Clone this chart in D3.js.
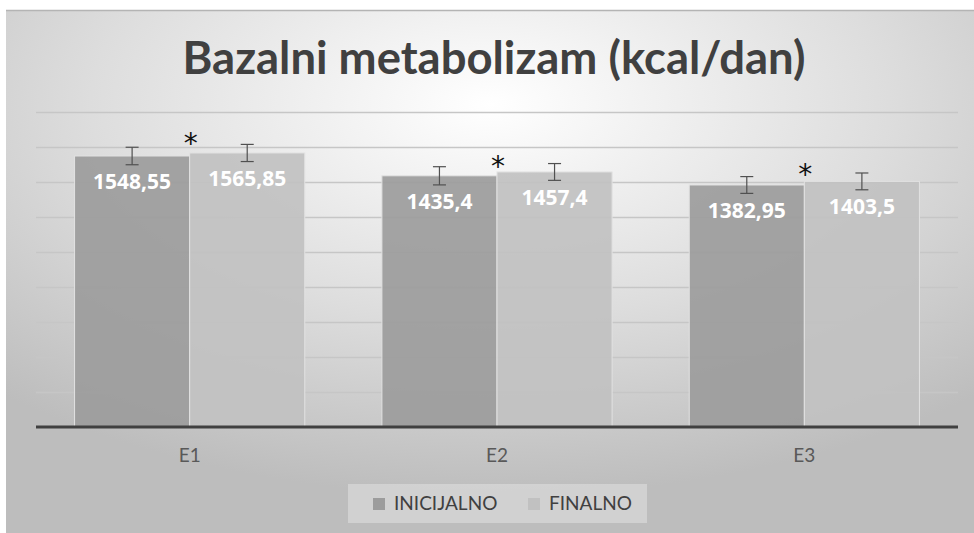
<!DOCTYPE html>
<html>
<head>
<meta charset="utf-8">
<script src="https://cdn.jsdelivr.net/npm/d3@7"></script>
<style>
  html, body { margin: 0; padding: 0; background: #fff; }
  svg { display: block; font-family: Lato, "Open Sans", sans-serif; }
</style>
</head>
<body>
<div id="chart"></div>
<script>
const categories = ["E1", "E2", "E3"];
const seriesNames = ["INICIJALNO", "FINALNO"];
const inicijalno = [1548.55, 1435.4, 1382.95];
const finalno = [1565.85, 1457.4, 1403.5];
const errInicijalno = [50, 52, 48];
const errFinalno = [49, 48, 48];
const starLevel = [1646, 1514, 1469];
const yTicks = [200, 400, 600, 800, 1000, 1200, 1400, 1600, 1800];
const labels = ["1548,55", "1565,85", "1435,4", "1457,4", "1382,95", "1403,5"];

const W = 974, H = 533;
const colors = { INICIJALNO: "#9c9c9c", FINALNO: "#c1c1c1" };

const svg = d3.select("#chart").append("svg")
  .attr("width", W).attr("height", H);

// background
const defs = svg.append("defs");
const grad = defs.append("radialGradient").attr("id", "bg")
  .attr("cx", "50%").attr("cy", "18%").attr("r", "75%");
grad.append("stop").attr("offset", "0%").attr("stop-color", "#ffffff");
grad.append("stop").attr("offset", "55%").attr("stop-color", "#dddddd");
grad.append("stop").attr("offset", "100%").attr("stop-color", "#bdbdbd");

svg.append("rect").attr("x", 6).attr("y", 10).attr("width", W - 6).attr("height", H - 10)
  .attr("fill", "url(#bg)");
svg.append("line").attr("x1", 6).attr("x2", W).attr("y1", 10.5).attr("y2", 10.5)
  .attr("stroke", "#b4b4b4").attr("stroke-width", 1.5);

// scales
const x = d3.scaleBand().domain(categories).range([36, 958]);
const xs = d3.scaleBand().domain(seriesNames).range([0, x.bandwidth()]).paddingOuter(0.335);
const y = d3.scaleLinear().domain([0, 1800]).range([427, 112]);

// gridlines
svg.append("g").selectAll("line").data(yTicks).join("line")
  .attr("x1", 36).attr("x2", 958)
  .attr("y1", d => Math.round(y(d)) + 0.5).attr("y2", d => Math.round(y(d)) + 0.5)
  .attr("stroke", "#c6c6c6").attr("stroke-width", 1.3);

// title
const title = svg.append("text")
  .attr("x", 494).attr("y", 74)
  .attr("text-anchor", "middle")
  .attr("font-weight", "bold")
  .attr("font-size", 38)
  .attr("fill", "#404040")
  .text("Bazalni metabolizam (kcal/dan)");
const tw = title.node().getComputedTextLength();
title.attr("font-size", 38 * 623 / tw);

// data rows
const rows = categories.map((c, i) => ({
  cat: c,
  vals: [
    { s: "INICIJALNO", v: inicijalno[i], e: errInicijalno[i], label: labels[i * 2] },
    { s: "FINALNO", v: finalno[i], e: errFinalno[i], label: labels[i * 2 + 1] }
  ],
  star: starLevel[i]
}));

const groups = svg.append("g").selectAll("g").data(rows).join("g")
  .attr("transform", d => `translate(${x(d.cat)},0)`);

groups.selectAll("rect").data(d => d.vals).join("rect")
  .attr("x", d => xs(d.s))
  .attr("width", xs.bandwidth())
  .attr("y", d => y(d.v))
  .attr("height", d => y(0) - y(d.v))
  .attr("fill", d => colors[d.s])
  .attr("fill-opacity", 0.92)
  .attr("stroke", "#e2e2e2")
  .attr("stroke-width", 1);

// error bars
const eb = groups.selectAll("g.err").data(d => d.vals).join("g").attr("class", "err")
  .attr("stroke", "#505050").attr("stroke-width", 1.2);
eb.append("line")
  .attr("x1", d => xs(d.s) + xs.bandwidth() / 2).attr("x2", d => xs(d.s) + xs.bandwidth() / 2)
  .attr("y1", d => y(d.v + d.e)).attr("y2", d => y(d.v - d.e));
eb.append("line")
  .attr("x1", d => xs(d.s) + xs.bandwidth() / 2 - 6.5).attr("x2", d => xs(d.s) + xs.bandwidth() / 2 + 6.5)
  .attr("y1", d => y(d.v + d.e)).attr("y2", d => y(d.v + d.e));
eb.append("line")
  .attr("x1", d => xs(d.s) + xs.bandwidth() / 2 - 6.5).attr("x2", d => xs(d.s) + xs.bandwidth() / 2 + 6.5)
  .attr("y1", d => y(d.v - d.e)).attr("y2", d => y(d.v - d.e));

// value labels
groups.selectAll("text.val").data(d => d.vals).join("text").attr("class", "val")
  .attr("x", d => xs(d.s) + xs.bandwidth() / 2)
  .attr("y", d => y(d.v) + 33)
  .attr("text-anchor", "middle")
  .attr("font-family", "'Open Sans', Lato, sans-serif")
  .attr("font-weight", "bold")
  .attr("font-size", 21)
  .attr("fill", "#ffffff")
  .text(d => d.label);

// asterisks
groups.append("text")
  .attr("x", x.bandwidth() / 2 + 1)
  .attr("y", d => y(d.star) + 14)
  .attr("text-anchor", "middle")
  .attr("font-family", "DejaVu Sans")
  .attr("font-size", 28)
  .attr("fill", "#111")
  .text("*");

// axis
const xAxis = svg.append("g").attr("transform", `translate(0,${y(0)})`)
  .call(d3.axisBottom(x).tickSize(0).tickPadding(22));
xAxis.select(".domain").attr("stroke", "#404040").attr("stroke-width", 3)
  .attr("d", "M36,0H958");
xAxis.selectAll("text")
  .attr("font-family", "Lato, sans-serif")
  .attr("font-size", 19)
  .attr("fill", "#595959");

// legend
const lg = svg.append("g");
lg.append("rect").attr("x", 348).attr("y", 484).attr("width", 299).attr("height", 39)
  .attr("fill", "#ffffff").attr("fill-opacity", 0.3);
const legendX = [373, 528];
const li = lg.selectAll("g").data(seriesNames).join("g")
  .attr("transform", (d, i) => `translate(${legendX[i]},498)`);
li.append("rect").attr("width", 12).attr("height", 12).attr("fill", d => colors[d]);
li.append("text").attr("x", 21).attr("y", 12)
  .attr("font-size", 19).attr("fill", "#404040")
  .text(d => d);
</script>
</body>
</html>
